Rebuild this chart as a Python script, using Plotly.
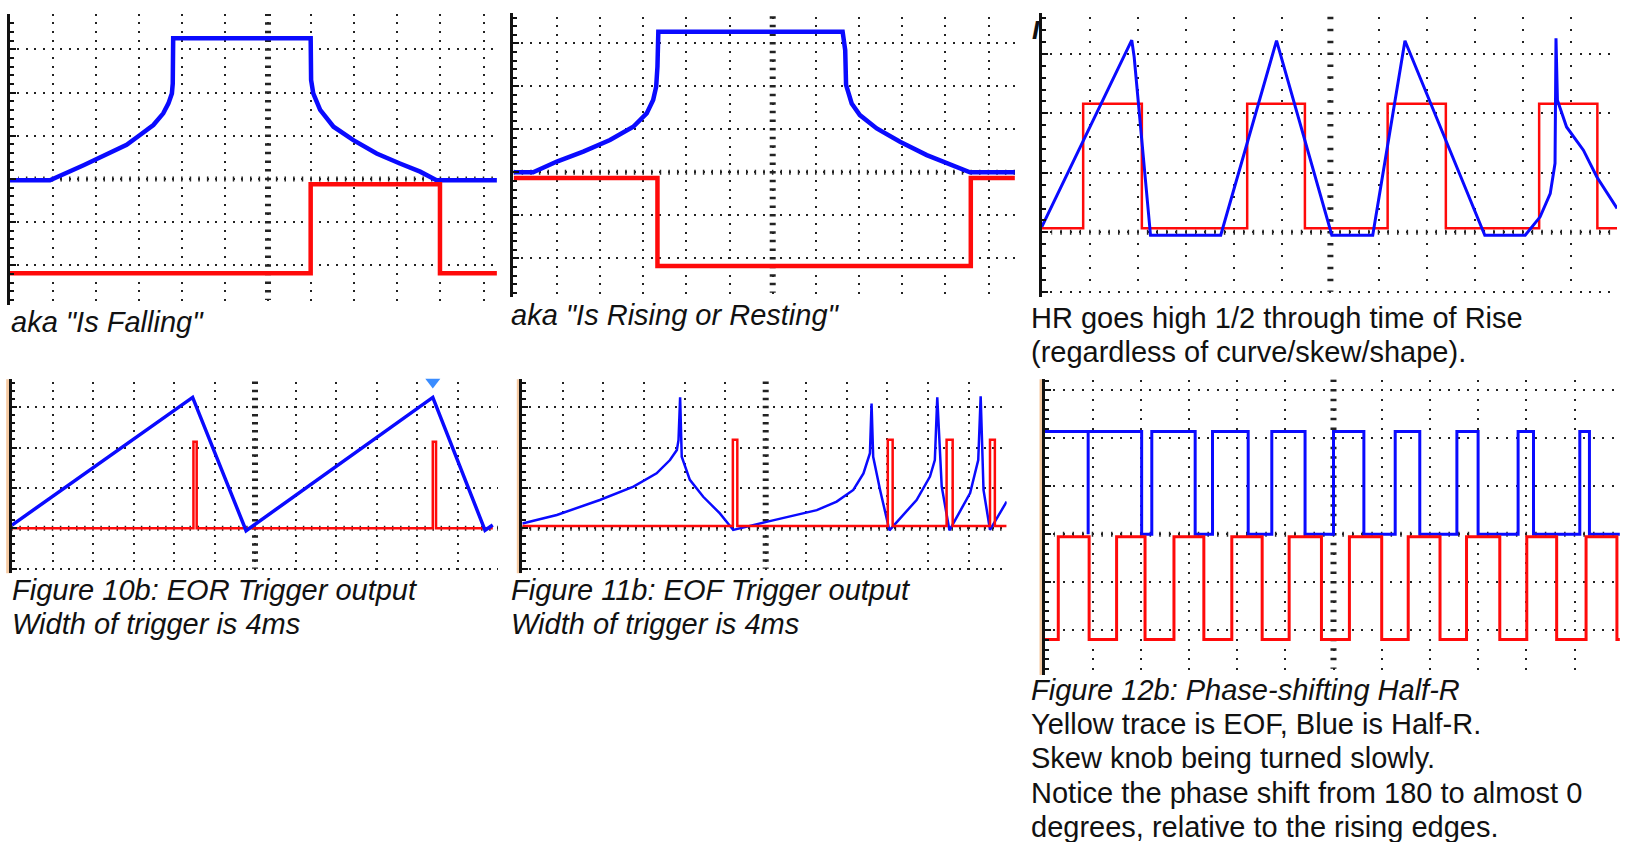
import math
import plotly.graph_objects as go

W, H = 1625, 842

# ---------------- data: trace values in screen divisions -------------
# Panel 1 - aka "Is Falling"
p1_blue_t = [-6.0, -5.06, -4.28, -3.67, -3.28, -2.97, -2.66, -2.43, -2.31, -2.23, -2.21, -2.20,
             0.99, 1.00, 1.05, 1.21, 1.52, 1.98, 2.52, 3.06, 3.53, 3.91, 5.31]
p1_blue_v = [-0.03, -0.03, 0.32, 0.59, 0.79, 1.02, 1.25, 1.52, 1.75, 1.98, 2.21, 3.26,
             3.26, 2.29, 1.98, 1.60, 1.21, 0.90, 0.59, 0.36, 0.17, -0.03, -0.03]
p1_red_t = [-6.0, 0.99, 3.99, 5.31]
p1_red_v = [-2.18, -0.12, -2.18, -2.18]

# Panel 2 - aka "Is Rising or Resting"
p2_blue_t = [-6.0, -5.55, -5.0, -4.39, -3.77, -3.23, -2.92, -2.77, -2.70, -2.67, -2.65,
             1.62, 1.68, 1.70, 1.83, 2.02, 2.41, 2.95, 3.57, 4.11, 4.57, 5.61]
p2_blue_v = [0.0, 0.0, 0.25, 0.48, 0.75, 1.06, 1.37, 1.68, 1.99, 2.46, 3.27,
             3.27, 2.84, 2.03, 1.60, 1.33, 1.02, 0.71, 0.40, 0.17, 0.0, 0.0]
p2_red_t = [-6.0, -2.67, 4.59, 5.61]
p2_red_v = [-0.13, -2.18, -0.13, -0.13]

# Panel 3 - HR goes high 1/2 through time of Rise
p3_blue_t = [-6.0, -4.13, -4.08, -3.74, -2.28, -1.12, 0.03, 0.88, 1.55, 3.21, 4.05,
             4.36, 4.57, 4.67, 4.69, 4.72, 4.91, 5.26, 5.54, 5.96]
p3_blue_v = [0.09, 3.23, 2.95, -0.05, -0.05, 3.22, -0.05, -0.05, 3.22, -0.05, -0.05,
             0.26, 0.65, 1.16, 3.26, 2.22, 1.77, 1.38, 0.93, 0.40]
p3_red_t = [-6.0, -5.14, -3.92, -1.73, -0.53, 1.19, 2.40, 4.34, 5.55, 5.96]
p3_red_v = [0.07, 2.16, 0.07, 2.16, 0.07, 2.16, 0.07, 2.16, 0.07, 0.07]

# Panel 4 - Figure 10b: EOR Trigger output
p4_blue_t = [-6.0, -1.54, -0.22, 4.39, 5.68, 5.87]
p4_blue_v = [0.08, 3.24, -0.06, 3.24, -0.05, 0.08]
p4_red_t = [-6.0, -1.52, -1.44, 4.39, 4.47, 5.87]
p4_red_v = [0.0, 2.14, 0.0, 2.14, 0.0, 0.0]
p4_trig_t = [4.39]
p4_trig_v = [3.62]

# Panel 5 - Figure 11b: EOF Trigger output
p5_blue_t = [-6.0, -5.15, -4.09, -3.26, -2.69, -2.36, -2.19, -2.15, -2.11, -2.07, -1.87, -1.54,
             -1.13, -0.80, 0.02, 0.60, 1.26, 1.75, 2.16, 2.41, 2.57, 2.61, 2.65, 2.82, 3.05,
             3.72, 4.05, 4.17, 4.23, 4.34, 4.53, 5.04, 5.24, 5.30, 5.37, 5.53, 5.78, 5.94]
p5_blue_v = [0.12, 0.33, 0.70, 1.03, 1.36, 1.69, 1.94, 2.18, 3.24, 1.77, 1.20, 0.78,
             0.37, -0.04, 0.16, 0.29, 0.45, 0.66, 0.95, 1.36, 1.86, 3.09, 1.77, 0.95, -0.05,
             0.70, 1.28, 1.69, 3.24, 1.03, -0.05, 0.87, 1.69, 3.27, 0.95, -0.04, 0.37, 0.66]
p5_red_t = [-6.0, -0.81, -0.70, 3.01, 3.13, 4.46, 4.61, 5.53, 5.65, 5.94]
p5_red_v = [0.06, 2.19, 0.06, 2.19, 0.06, 2.19, 0.06, 2.19, 0.06, 0.06]

# Panel 6 - Figure 12b: Phase-shifting Half-R
p6_blue_t = [-6.0, -5.09, -5.09, -3.98, -3.77, -2.87, -2.51, -1.77, -1.28, -0.59, 0.0,
             0.63, 1.28, 1.79, 2.56, 3.0, 3.83, 4.15, 5.11, 5.31, 5.94]
p6_blue_v = [2.14, 0.0, 2.14, 0.0, 2.14, 0.0, 2.14, 0.0, 2.14, 0.0, 2.14,
             0.0, 2.14, 0.0, 2.14, 0.0, 2.14, 0.0, 2.14, 0.0, 0.0]
p6_red_t = [-6.0, -5.71, -5.07, -4.50, -3.91, -3.31, -2.69, -2.11, -1.48, -0.92, -0.25,
            0.33, 1.0, 1.55, 2.21, 2.76, 3.45, 4.01, 4.63, 5.24, 5.88, 5.94]
p6_red_v = [-2.19, -0.05, -2.19, -0.05, -2.19, -0.05, -2.19, -0.05, -2.19, -0.05, -2.19,
            -0.05, -2.19, -0.05, -2.19, -0.05, -2.19, -0.05, -2.19, -0.05, -2.19, -2.19]

# captions
cap_p1 = ["aka \"Is Falling\""]
cap_p2 = ["aka \"Is Rising or Resting\""]
cap_p3 = ["HR goes high 1/2 through time of Rise", "(regardless of curve/skew/shape)."]
cap_p4 = ["Figure 10b: EOR Trigger output", "Width of trigger is 4ms"]
cap_p5 = ["Figure 11b: EOF Trigger output", "Width of trigger is 4ms"]
cap_p6 = ["Figure 12b: Phase-shifting Half-R", "Yellow trace is EOF, Blue is Half-R.",
          "Skew knob being turned slowly.", "Notice the phase shift from 180 to almost 0",
          "degrees, relative to the rising edges."]

# ---------------- screen geometry (pixels) ----------------
screens = [
    dict(left=10, right=497, top=14, bottom=305, cx=268, cy=179, dx=43.1, dy=43.2, bar=False),
    dict(left=513.3, right=1015, top=13.3, bottom=297, cx=772.7, cy=172.3, dx=43.16, dy=43.0, bar=False),
    dict(left=1042, right=1617, top=13.3, bottom=297, cx=1330.4, cy=232.3, dx=48.1, dy=59.5, bar=False),
    dict(left=11.7, right=498, top=379.3, bottom=573.3, cx=255, cy=528.3, dx=40.5, dy=40.4, bar=True),
    dict(left=522.3, right=1006.7, top=379.3, bottom=573.3, cx=765.7, cy=528.3, dx=40.56, dy=40.4, bar=True),
    dict(left=1045, right=1620, top=379.3, bottom=675, cx=1333.5, cy=534.3, dx=48.2, dy=48.0, bar=True),
]

BLUE = "#0a0aff"
RED = "#ff0a0a"
GRID = "#222222"
FONT = "Liberation Sans, Arial, sans-serif"


def dash(offset, period, w=2.0):
    """dash pattern giving marks of length w centred every `period` px, first at `offset`."""
    a = (offset - w / 2.0) % period
    if a + w <= period:
        parts = [0.0, a, w, period - a - w]
    else:
        d1 = a + w - period
        parts = [d1, period - w, period - a, 0.0]
    return ",".join(f"{max(p, 0):.2f}px" for p in parts)


fig = go.Figure()
shapes = []
layout_axes = {}

for i, s in enumerate(screens):
    n = "" if i == 0 else str(i + 1)
    x_lo = (s["left"] - s["cx"]) / s["dx"]
    x_hi = (s["right"] - s["cx"]) / s["dx"]
    y_lo = (s["cy"] - s["bottom"]) / s["dy"]
    y_hi = (s["cy"] - s["top"]) / s["dy"]
    px_ = 0.2 * s["dx"]
    py_ = 0.2 * s["dy"]
    # vertical grid lines start at the top edge
    yk = math.floor(y_hi / 0.2 + 1e-9) * 0.2
    gx = (y_hi - yk) * s["dy"]
    # horizontal grid lines start at the left edge
    xk = math.ceil(x_lo / 0.2 - 1e-9) * 0.2
    gy = (xk - x_lo) * s["dx"]
    layout_axes["xaxis" + n] = dict(
        domain=[s["left"] / W, s["right"] / W], range=[x_lo, x_hi], anchor="y" + n,
        showgrid=True, gridcolor=GRID, gridwidth=2, griddash=dash(gx, py_),
        tick0=0, dtick=1, showticklabels=False, ticks="", zeroline=False, showline=False,
        fixedrange=True)
    layout_axes["yaxis" + n] = dict(
        domain=[1 - s["bottom"] / H, 1 - s["top"] / H], range=[y_lo, y_hi], anchor="x" + n,
        showgrid=True, gridcolor=GRID, gridwidth=2, griddash=dash(gy, px_),
        tick0=0, dtick=1, showticklabels=False, zeroline=False,
        showline=True, linecolor="#111111", linewidth=2.5,
        ticks="inside", ticklen=6, tickwidth=2, tickcolor="#111111",
        minor=dict(tick0=0, dtick=0.2, ticks="inside", ticklen=4, tickwidth=1.5,
                   tickcolor="#111111", showgrid=False),
        fixedrange=True)
    # centre lines with 1/5-division marks
    shapes.append(dict(type="line", xref="x" + n, yref="y" + n, x0=xk, x1=x_hi, y0=0, y1=0,
                       line=dict(color=GRID, width=5, dash=dash(0, px_, 1.5)), layer="between"))
    ykb = math.ceil(y_lo / 0.2 - 1e-9) * 0.2
    shapes.append(dict(type="line", xref="x" + n, yref="y" + n, x0=0, x1=0, y0=ykb, y1=y_hi,
                       line=dict(color=GRID, width=6, dash=dash(0, py_, 2.5)), layer="between"))
    if s["bar"]:
        shapes.append(dict(type="rect", xref="paper", yref="paper",
                           x0=(s["left"] - 5.5) / W, x1=(s["left"] - 1.2) / W,
                           y0=1 - s["bottom"] / H, y1=1 - s["top"] / H,
                           fillcolor="#f5c9a1", line=dict(width=0), layer="below"))

traces = [
    (1, p1_blue_t, p1_blue_v, BLUE, 4.5, "linear"),
    (1, p1_red_t, p1_red_v, RED, 4.5, "hv"),
    (2, p2_blue_t, p2_blue_v, BLUE, 4.5, "linear"),
    (2, p2_red_t, p2_red_v, RED, 4.5, "hv"),
    (3, p3_red_t, p3_red_v, RED, 2.5, "hv"),
    (3, p3_blue_t, p3_blue_v, BLUE, 3, "linear"),
    (4, p4_red_t, p4_red_v, RED, 2.5, "hv"),
    (4, p4_blue_t, p4_blue_v, BLUE, 3.5, "linear"),
    (5, p5_blue_t, p5_blue_v, BLUE, 2.5, "linear"),
    (5, p5_red_t, p5_red_v, RED, 2.5, "hv"),
    (6, p6_blue_t, p6_blue_v, BLUE, 3, "hv"),
    (6, p6_red_t, p6_red_v, RED, 3, "hv"),
]
for k, t, v, c, w, shp in traces:
    n = "" if k == 1 else str(k)
    fig.add_trace(go.Scatter(x=t, y=v, mode="lines", line=dict(color=c, width=w, shape=shp),
                             xaxis="x" + n, yaxis="y" + n, showlegend=False, hoverinfo="skip"))

fig.add_trace(go.Scatter(x=p4_trig_t, y=p4_trig_v, mode="markers", xaxis="x4", yaxis="y4",
                         marker=dict(symbol="triangle-down", size=13, color="#3a8cff"),
                         cliponaxis=False, showlegend=False, hoverinfo="skip"))

annotations = []


def add_lines(lines, x_px, base_px, italic_first=0, step=34.2):
    for j, txt in enumerate(lines):
        txt_html = f"<i>{txt}</i>" if j < italic_first else txt
        annotations.append(dict(text=txt_html, xref="paper", yref="paper", showarrow=False,
                                x=x_px / W, y=1 - (base_px + j * step - 10) / H,
                                xanchor="left", yanchor="middle", borderpad=0,
                                font=dict(family=FONT, size=29, color="#111111")))


add_lines(cap_p1, 10, 332, italic_first=1)
add_lines(cap_p2, 510, 325, italic_first=1)
add_lines(cap_p3, 1030, 328, italic_first=0)
add_lines(cap_p4, 11, 600, italic_first=2)
add_lines(cap_p5, 510, 600, italic_first=2)
add_lines(cap_p6, 1030, 700, italic_first=1)
annotations.append(dict(text="<b><i>I</i></b>", xref="paper", yref="paper", showarrow=False,
                        x=1036 / W, y=1 - 30 / H, xanchor="center", yanchor="middle",
                        font=dict(family=FONT, size=26, color="#111111")))

fig.update_layout(width=W, height=H, margin=dict(l=0, r=0, t=0, b=0), autosize=False,
                  paper_bgcolor="white", plot_bgcolor="white", showlegend=False,
                  shapes=shapes, annotations=annotations, **layout_axes)

fig.write_html("out.html", config=dict(displayModeBar=False),
               post_script="document.body.style.margin='0';document.body.style.overflow='hidden';")
